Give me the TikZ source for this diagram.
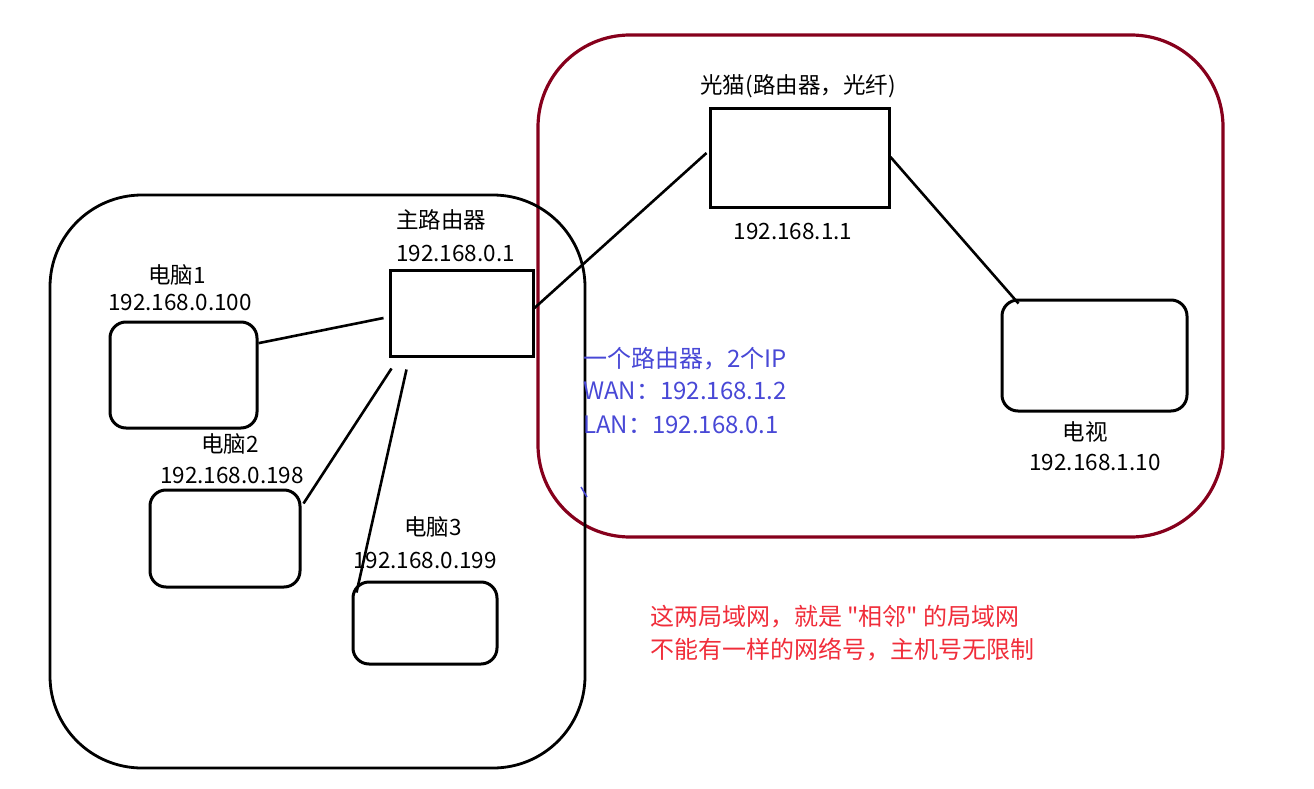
\documentclass[tikz,border=0pt]{standalone}
\usepackage{fontspec}
\setmainfont{Noto Sans CJK SC}
\newfontfamily\plainfont{Noto Sans CJK SC}[Ligatures=TeXOff]
\usetikzlibrary{calc}
\definecolor{lanred}{RGB}{134,0,28}
\definecolor{noteblue}{RGB}{72,72,214}
\definecolor{notered}{RGB}{240,45,58}
\begin{document}
\begin{tikzpicture}[x=1pt,y=-1pt,
  lbl/.style={font=\fontsize{22.5}{26}\selectfont, inner sep=0pt},
  bluenote/.style={lbl, font=\fontsize{24}{28}\selectfont, text=noteblue, anchor=west},
  rednote/.style={lbl, font=\plainfont\fontsize{24}{28}\selectfont, text=notered, anchor=west},
  devbox/.style={draw, line width=3pt, inner sep=0pt},
  pcbox/.style={devbox, rounded corners=16pt},
  link/.style={draw, line width=2.6pt},
  region/.style={draw, line width=2.8pt, rounded corners=92pt}]
\useasboundingbox (0,0) rectangle (1314,789);
% regions
\node[region, draw=lanred, line width=3.2pt, minimum width=685pt, minimum height=502pt] (lan2) at (880.5,286) {};
\node[region, minimum width=535pt, minimum height=573pt] (lan1) at (317.5,481.5) {};
% devices
\node[devbox, minimum width=143pt, minimum height=86pt] (router) at (461.5,313) {};
\node[devbox, minimum width=179pt, minimum height=98pt] (modem) at (799.5,158) {};
\node[pcbox, minimum width=147pt, minimum height=106pt] (pc1) at (183.5,375) {};
\node[pcbox, minimum width=150pt, minimum height=97pt] (pc2) at (225,538.5) {};
\node[pcbox, minimum width=144pt, minimum height=82pt] (pc3) at (425,623) {};
\node[pcbox, minimum width=185pt, minimum height=111pt] (tv) at (1094.5,355.5) {};
% labels
\node[lbl] (pc1name) at (177,275) {电脑1};
\node[lbl] (pc1ip) at (180,302) {192.168.0.100};
\node[lbl] (pc2name) at (230,444) {电脑2};
\node[lbl] (pc2ip) at (232,475) {192.168.0.198};
\node[lbl] (pc3name) at (433,527) {电脑3};
\node[lbl] (pc3ip) at (425,560) {192.168.0.199};
\node[lbl, anchor=west] (rname) at (396,220) {主路由器};
\node[lbl, anchor=west] (rip) at (396,253) {192.168.0.1};
\node[lbl] (mname) at (798,86) {光猫(路由器，光纤)};
\node[lbl] (mip) at (793,231) {192.168.1.1};
\node[lbl] (tvname) at (1085,432) {电视};
\node[lbl] (tvip) at (1095,462) {192.168.1.10};
\node[bluenote] (note1) at (583,359) {一个路由器，2个IP};
\node[bluenote] (note2) at (583,391) {WAN：192.168.1.2};
\node[bluenote] (note3) at (583,425) {LAN：192.168.0.1};
\node[rednote] (red1) at (650,617) {这两局域网，就是 "相邻" 的局域网};
\node[rednote] (red2) at (650,650) {不能有一样的网络号，主机号无限制};
% stray mark
\coordinate (m1) at (581,487);
\coordinate (m2) at (587,497);
\draw[noteblue, line width=1.5pt] (m1) -- (m2);
% connectors
\draw[link] (pc1.23) -- ($(router.west)+(-5,5)$);
\draw[link] ($(router.south west)+(3,11)$) -- ($(pc2.north east)+(2,15)$);
\draw[link] ($(router.south west)+(18,12)$) -- ($(pc3.north west)+(5,12)$);
\draw[link] ($(router.east)+(0,-5)$) -- ($(modem.west)+(-2,-5)$);
\draw[link] ($(modem.east)+(0,-1)$) -- ($(tv.north west)+(18,5)$);
\end{tikzpicture}
\end{document}
